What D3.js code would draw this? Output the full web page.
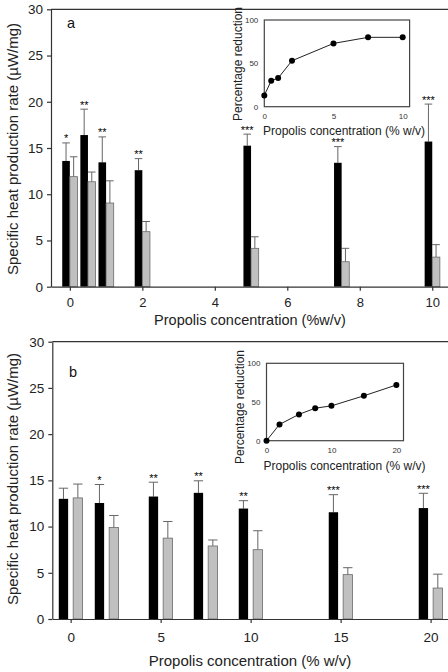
<!DOCTYPE html>
<html>
<head>
<meta charset="utf-8">
<script src="https://cdn.jsdelivr.net/npm/d3@7/dist/d3.min.js"></script>
<style>
  body { margin: 0; background: #fff; }
  svg { display: block; font-family: "Liberation Sans", Arial, sans-serif; }
</style>
</head>
<body>
<svg id="chart" width="448" height="672"></svg>
<script>
// ---- Panel a data ----
const concA = [0, 0.5, 1, 2, 5, 7.5, 10];
const ctrlA = [13.6, 16.4, 13.45, 12.6, 15.25, 13.4, 15.7];
const ctrlErrA = [1.95, 2.8, 2.75, 1.25, 1.25, 1.75, 4.05];
const treatA = [11.9, 11.35, 9.05, 5.95, 4.15, 2.7, 3.2];
const treatErrA = [2.15, 1.05, 2.4, 1.1, 1.25, 1.45, 1.35];
const sigA = ["*", "**", "**", "**", "***", "***", "***"];
const reductionA = [13, 30, 33, 53, 73, 80, 80];
const xTicksA = [0, 2, 4, 6, 8, 10];
const insetXTicksA = [0, 5, 10];

// ---- Panel b data ----
const concB = [0, 2, 5, 7.5, 10, 15, 20];
const ctrlB = [13.0, 12.55, 13.25, 13.65, 11.95, 11.55, 12.0];
const ctrlErrB = [1.15, 2.0, 1.55, 1.3, 0.85, 1.9, 1.6];
const treatB = [13.1, 9.9, 8.75, 7.9, 7.5, 4.8, 3.35];
const treatErrB = [1.5, 1.3, 1.8, 0.65, 2.05, 0.75, 1.5];
const sigB = ["", "*", "**", "**", "**", "***", "***"];
const reductionB = [0, 21, 34, 42, 45, 58, 72];
const xTicksB = [0, 5, 10, 15, 20];
const insetXTicksB = [0, 10, 20];

const yTicks = [0, 5, 10, 15, 20, 25, 30];
const insetYTicks = [0, 50, 100];

const svg = d3.select("#chart");

function panel(cfg) {
  const g = svg.append("g");
  const x = d3.scaleLinear().domain(cfg.xDomain).range(cfg.xRange);
  const y = d3.scaleLinear().domain([0, 30]).range([cfg.yBottom, cfg.yTop]);

  // top border
  g.append("line")
    .attr("x1", cfg.xRange[0]).attr("x2", 460)
    .attr("y1", cfg.yTop).attr("y2", cfg.yTop)
    .attr("stroke", "#333").attr("stroke-width", 1.2);

  const rows = cfg.conc.map((c, i) => ({
    c, ctrl: cfg.ctrl[i], ctrlErr: cfg.ctrlErr[i],
    treat: cfg.treat[i], treatErr: cfg.treatErr[i], sig: cfg.sig[i]
  }));

  const w = x(cfg.barW) - x(0);
  const gap = x(cfg.gap) - x(0);

  // error bars (drawn first, behind bars)
  const errColor = "#666";
  rows.forEach(d => {
    const bx = x(d.c) - gap - w;
    const gx = x(d.c) + gap;
    [[bx, d.ctrl, d.ctrlErr], [gx, d.treat, d.treatErr]].forEach(([x0, v, e]) => {
      g.append("line").attr("x1", x0 + w / 2).attr("x2", x0 + w / 2)
        .attr("y1", y(v)).attr("y2", y(v + e))
        .attr("stroke", errColor).attr("stroke-width", 1);
      g.append("line").attr("x1", x0).attr("x2", x0 + w)
        .attr("y1", y(v + e)).attr("y2", y(v + e))
        .attr("stroke", errColor).attr("stroke-width", 1);
    });
  });

  // control (black) bars
  g.selectAll(".ctrl").data(rows).join("rect")
    .attr("x", d => x(d.c) - gap - w)
    .attr("width", w)
    .attr("y", d => y(d.ctrl))
    .attr("height", d => y(0) - y(d.ctrl))
    .attr("fill", "#000");

  // treated (grey) bars
  g.selectAll(".treat").data(rows).join("rect")
    .attr("x", d => x(d.c) + gap)
    .attr("width", w)
    .attr("y", d => y(d.treat))
    .attr("height", d => y(0) - y(d.treat))
    .attr("fill", "#c0c0c0")
    .attr("stroke", "#6a6a6a").attr("stroke-width", 0.8);

  // significance stars
  g.selectAll(".sig").data(rows).join("text")
    .attr("x", d => x(d.c) - gap - w / 2)
    .attr("y", d => y(d.ctrl + d.ctrlErr) - 0.5)
    .attr("text-anchor", "middle")
    .attr("font-size", 11)
    .attr("fill", "#000")
    .text(d => d.sig);

  // axes
  const xAxis = g.append("g").attr("transform", `translate(0,${cfg.yBottom})`)
    .call(d3.axisBottom(x).tickValues(cfg.xTicks).tickSize(4).tickSizeOuter(0).tickPadding(cfg.xPad));
  const yAxis = g.append("g").attr("transform", `translate(${cfg.xRange[0]},0)`)
    .call(d3.axisLeft(y).tickValues(yTicks).tickSize(4).tickSizeOuter(0).tickPadding(4));
  [xAxis, yAxis].forEach(a => {
    a.selectAll("path, line").attr("stroke", "#333").attr("stroke-width", 1.2);
    a.selectAll("text").attr("font-size", 13.5).attr("fill", "#222")
      .attr("font-family", "'Liberation Sans', Arial, sans-serif");
  });
  xAxis.selectAll("text").attr("font-size", cfg.xTickFont);

  // titles
  g.append("text").attr("x", 250).attr("y", cfg.xTitleY)
    .attr("text-anchor", "middle").attr("font-size", cfg.xTitleFont).attr("fill", "#222")
    .text(cfg.xTitle);
  g.append("text")
    .attr("transform", `translate(18,${cfg.yTitleY}) rotate(-90)`)
    .attr("text-anchor", "middle").attr("font-size", 15).attr("fill", "#222")
    .text("Specific heat production rate (µW/mg)");
  g.append("text").attr("x", cfg.labelX).attr("y", cfg.labelY)
    .attr("text-anchor", "middle").attr("font-size", 14.5).attr("fill", "#111")
    .text(cfg.label);

  // inset
  const ix = d3.scaleLinear().domain(cfg.inXDomain).range(cfg.inXRange);
  const iy = d3.scaleLinear().domain([0, 100]).range([cfg.inYRange[1], cfg.inYRange[0]]);
  const ig = svg.append("g");
  ig.append("rect")
    .attr("x", cfg.inXRange[0]).attr("y", cfg.inYRange[0])
    .attr("width", cfg.inXRange[1] - cfg.inXRange[0])
    .attr("height", cfg.inYRange[1] - cfg.inYRange[0])
    .attr("fill", "none").attr("stroke", "#444").attr("stroke-width", 1.2);
  const ixa = ig.append("g").attr("transform", `translate(0,${cfg.inYRange[1]})`)
    .call(d3.axisBottom(ix).tickValues(cfg.inXTicks).tickSize(0).tickPadding(7));
  const iya = ig.append("g").attr("transform", `translate(${cfg.inXRange[0]},0)`)
    .call(d3.axisLeft(iy).tickValues(insetYTicks).tickSize(0).tickPadding(6));
  [ixa, iya].forEach(a => {
    a.select(".domain").remove();
    a.selectAll("text").attr("font-size", 8).attr("fill", "#333")
      .attr("font-family", "'Liberation Sans', Arial, sans-serif");
  });
  const pts = cfg.conc.map((c, i) => [c, cfg.reduction[i]]);
  ig.append("path").datum(pts)
    .attr("d", d3.line().x(d => ix(d[0])).y(d => iy(d[1])))
    .attr("fill", "none").attr("stroke", "#222").attr("stroke-width", 1);
  ig.selectAll("circle").data(pts).join("circle")
    .attr("cx", d => ix(d[0])).attr("cy", d => iy(d[1])).attr("r", 3)
    .attr("fill", "#000");
  ig.append("text").attr("x", cfg.inXTitleX).attr("y", cfg.inXTitleY)
    .attr("text-anchor", "middle").attr("font-size", 12).attr("fill", "#222")
    .text("Propolis concentration (% w/v)");
  ig.append("text")
    .attr("transform", `translate(${cfg.inYTitleX},${cfg.inYTitleY}) rotate(-90)`)
    .attr("text-anchor", "middle").attr("font-size", 12).attr("fill", "#222")
    .text("Percentage reduction");
}

panel({
  conc: concA, ctrl: ctrlA, ctrlErr: ctrlErrA, treat: treatA, treatErr: treatErrA,
  sig: sigA, reduction: reductionA,
  xDomain: [-0.52, 10.6], xRange: [51, 454], yTop: 9.3, yBottom: 286.7,
  barW: 0.21, gap: 0, xTicks: xTicksA, xPad: 7.5, xTickFont: 13,
  xTitle: "Propolis concentration (%w/v)", xTitleY: 324.5, xTitleFont: 14.5, yTitleY: 149,
  label: "a", labelX: 71, labelY: 28,
  inXDomain: [0, 10.5], inXRange: [264.3, 409.6], inYRange: [20, 106.7],
  inXTicks: insetXTicksA, inXTitleX: 344, inXTitleY: 134.5,
  inYTitleX: 242, inYTitleY: 64
});

panel({
  conc: concB, ctrl: ctrlB, ctrlErr: ctrlErrB, treat: treatB, treatErr: treatErrB,
  sig: sigB, reduction: reductionB,
  xDomain: [-1.02, 21.3], xRange: [52.3, 454], yTop: 341.7, yBottom: 619,
  barW: 0.52, gap: 0.14, xTicks: xTicksB, xPad: 9, xTickFont: 13.5,
  xTitle: "Propolis concentration (% w/v)", xTitleY: 666, xTitleFont: 15, yTitleY: 479,
  label: "b", labelX: 73, labelY: 377,
  inXDomain: [0, 21.1], inXRange: [266.5, 403.5], inYRange: [363.3, 440.7],
  inXTicks: insetXTicksB, inXTitleX: 344.5, inXTitleY: 470,
  inYTitleX: 244, inYTitleY: 407
});
</script>
</body>
</html>
